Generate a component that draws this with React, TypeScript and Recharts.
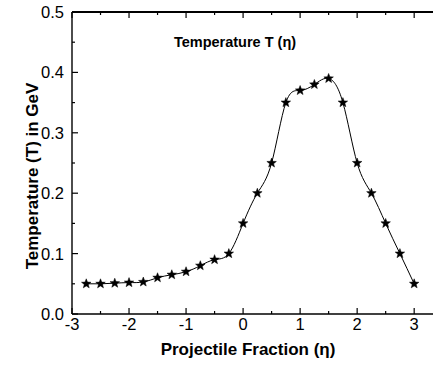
import React from "react";
import { LineChart, Line, XAxis, YAxis, ReferenceLine, CartesianGrid } from "recharts";

const eta = [-2.75, -2.5, -2.25, -2, -1.75, -1.5, -1.25, -1, -0.75, -0.5, -0.25, 0, 0.25, 0.5, 0.75, 1, 1.25, 1.5, 1.75, 2, 2.25, 2.5, 2.75, 3];
const temperature = [0.05, 0.05, 0.051, 0.052, 0.053, 0.06, 0.065, 0.07, 0.08, 0.09, 0.1, 0.15, 0.2, 0.25, 0.35, 0.37, 0.38, 0.39, 0.35, 0.25, 0.2, 0.15, 0.1, 0.05];
const xTicks = [-3, -2.5, -2, -1.5, -1, -0.5, 0, 0.5, 1, 1.5, 2, 2.5, 3];
const yTicks = [0, 0.05, 0.1, 0.15, 0.2, 0.25, 0.3, 0.35, 0.4, 0.45, 0.5];
const xDomain = [-3, 3.33];
const yDomain = [0, 0.5];

const data = eta.map((e, i) => ({ eta: e, T: temperature[i] }));

const FONT = "'Liberation Sans', Arial, sans-serif";
const isMajorX = (v: number) => Math.abs(v - Math.round(v)) < 1e-6;
const isMajorY = (v: number) => Math.abs(v * 10 - Math.round(v * 10)) < 1e-6;

const BottomTick = (props: any) => {
  const { x, y, payload } = props;
  const v = payload.value;
  const major = isMajorX(v);
  return (
    <g>
      <line x1={x} x2={x} y1={y} y2={y - (major ? 6 : 3)} stroke="#000" strokeWidth={1.2} />
      {major && (
        <text x={x} y={y + 16} textAnchor="middle" fontSize={16.5} fontFamily={FONT} fill="#000">
          {v}
        </text>
      )}
    </g>
  );
};

const LeftTick = (props: any) => {
  const { x, y, payload } = props;
  const v = payload.value;
  const major = isMajorY(v);
  return (
    <g>
      <line x1={x} x2={x + (major ? 6 : 3)} y1={y} y2={y} stroke="#000" strokeWidth={1.2} />
      {major && (
        <text x={x - 8} y={y + 6} textAnchor="end" fontSize={16.5} fontFamily={FONT} fill="#000">
          {v.toFixed(1)}
        </text>
      )}
    </g>
  );
};

const Star = (props: any) => {
  const { cx, cy } = props;
  if (cx == null || cy == null) return null;
  const R = 5;
  const r = 2.1;
  const pts: string[] = [];
  for (let i = 0; i < 10; i++) {
    const rad = i % 2 === 0 ? R : r;
    const a = -Math.PI / 2 + (i * Math.PI) / 5;
    pts.push(`${cx + rad * Math.cos(a)},${cy + rad * Math.sin(a)}`);
  }
  return <polygon points={pts.join(" ")} fill="#000" stroke="#000" strokeWidth={0.5} />;
};

export default function App() {
  const top = yDomain[1];
  return (
    <div style={{ position: "absolute", left: 0, top: 0, width: 433, height: 370, fontFamily: FONT }}>
      <LineChart width={433} height={370} data={data} margin={{ top: 12, right: 0, bottom: 0, left: 0 }}>
        <CartesianGrid vertical={false} horizontalValues={[top]} stroke="#000" strokeWidth={1.6} strokeDasharray="" />
        <XAxis
          dataKey="eta"
          type="number"
          domain={xDomain}
          ticks={xTicks}
          allowDataOverflow
          height={56}
          tickSize={0}
          tickMargin={0}
          tickLine={false}
          axisLine={{ stroke: "#000", strokeWidth: 1.4 }}
          tick={<BottomTick />}
          interval={0}
        />
        <YAxis
          type="number"
          domain={yDomain}
          ticks={yTicks}
          width={72}
          tickSize={0}
          tickMargin={0}
          tickLine={false}
          axisLine={{ stroke: "#000", strokeWidth: 1.4 }}
          tick={<LeftTick />}
          interval={0}
        />
        <ReferenceLine y={top} stroke="#000" strokeWidth={1.8} ifOverflow="visible" />
        {xTicks.map((t) => (
          <ReferenceLine
            key={t}
            segment={[{ x: t, y: top }, { x: t, y: top - (isMajorX(t) ? 0.01 : 0.005) }]}
            stroke="#000"
            strokeWidth={1.2}
            ifOverflow="visible"
          />
        ))}
        <Line
          dataKey="T"
          type="natural"
          stroke="#000"
          strokeWidth={1}
          dot={<Star />}
          activeDot={false}
          isAnimationActive={false}
        />
      </LineChart>
      <div style={{ position: "absolute", left: 235, top: 42, transform: "translate(-50%, -50%)", fontSize: 14.5, fontWeight: "bold", whiteSpace: "nowrap" }}>
        Temperature T (η)
      </div>
      <div style={{ position: "absolute", left: 248, top: 350, transform: "translate(-50%, -50%)", fontSize: 17, fontWeight: "bold", whiteSpace: "nowrap" }}>
        Projectile Fraction (η)
      </div>
      <div style={{ position: "absolute", left: 33, top: 176, transform: "translate(-50%, -50%) rotate(-90deg)", fontSize: 17, fontWeight: "bold", whiteSpace: "nowrap" }}>
        Temperature (T) in GeV
      </div>
    </div>
  );
}
